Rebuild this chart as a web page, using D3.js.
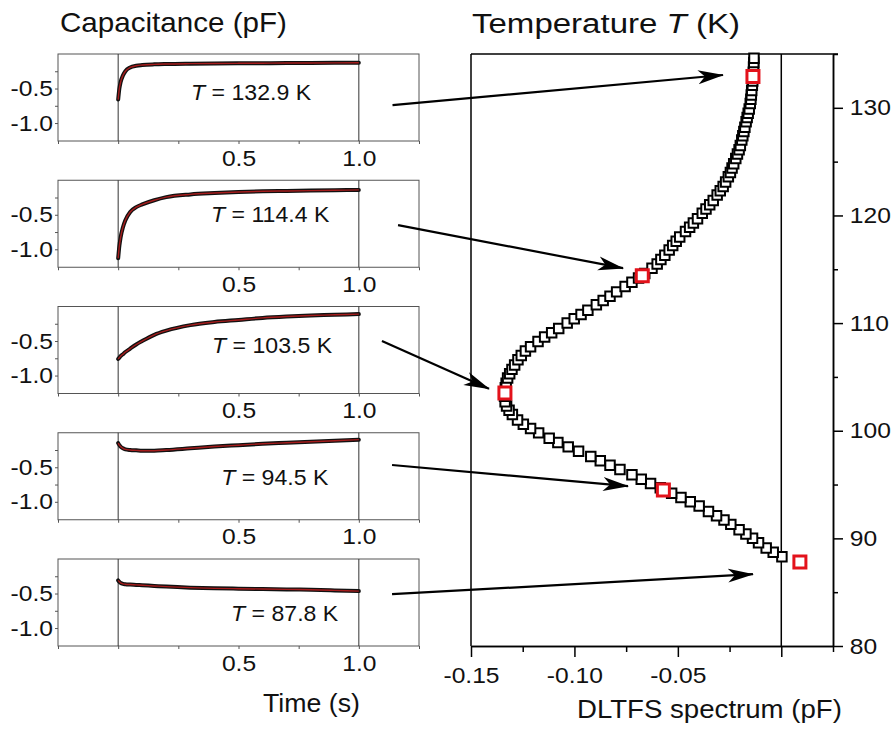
<!DOCTYPE html>
<html>
<head>
<meta charset="utf-8">
<script src="https://cdn.jsdelivr.net/npm/d3@7"></script>
<style>
body { margin: 0; background: #fff; }
text { font-family: "Liberation Sans", Arial, sans-serif; fill: #111; }
</style>
</head>
<body>
<script>
// ---- transients (capacitance vs time), one array per temperature ----
var times = [0, 0.005, 0.01, 0.02, 0.03, 0.05, 0.075, 0.1, 0.15, 0.2, 0.3, 0.4, 0.5, 0.6, 0.7, 0.8, 0.9, 1.0];
var panelTemps = ["132.9", "114.4", "103.5", "94.5", "87.8"];
var cap1329 = [-0.66, -0.50, -0.41, -0.31, -0.25, -0.195, -0.17, -0.16, -0.15, -0.145, -0.14, -0.137, -0.135, -0.133, -0.131, -0.13, -0.128, -0.127];
var cap1144 = [-1.13, -0.95, -0.83, -0.68, -0.58, -0.46, -0.39, -0.35, -0.29, -0.245, -0.205, -0.185, -0.17, -0.16, -0.155, -0.15, -0.145, -0.14];
var cap1035 = [-0.76, -0.74, -0.72, -0.69, -0.66, -0.61, -0.55, -0.50, -0.41, -0.35, -0.27, -0.225, -0.195, -0.165, -0.145, -0.13, -0.12, -0.11];
var cap945 = [-0.15, -0.18, -0.20, -0.225, -0.24, -0.25, -0.255, -0.26, -0.26, -0.25, -0.225, -0.20, -0.18, -0.16, -0.145, -0.13, -0.115, -0.10];
var cap878 = [-0.31, -0.33, -0.345, -0.36, -0.365, -0.37, -0.375, -0.38, -0.39, -0.40, -0.415, -0.425, -0.43, -0.435, -0.44, -0.445, -0.455, -0.465];
var transients = [cap1329, cap1144, cap1035, cap945, cap878];
var timeTicks = [-0.25, 0, 0.25, 0.5, 0.75, 1.0, 1.25];
var timeLabels = [0.5, 1.0];
var capTicks = [-0.25, -0.5, -0.75, -1.0];
var capLabels = [-0.5, -1.0];

// ---- DLTFS spectrum ----
var specT = [88.3, 88.7, 89.1, 89.6, 90.0, 90.4, 90.8, 91.3, 91.7, 92.1, 92.5, 93.0, 93.4, 93.8, 94.2, 94.7,
  95.1, 95.5, 95.9, 96.4, 96.8, 97.2, 97.6, 98.1, 98.5, 98.9, 99.3, 99.8, 100.2, 100.6, 101.0, 101.5,
  101.9, 102.3, 102.7, 103.2, 103.6, 104.0, 104.4, 104.9, 105.3, 105.7, 106.1, 106.6, 107.0, 107.4,
  107.8, 108.3, 108.7, 109.1, 109.5, 110.0, 110.4, 110.8, 111.2, 111.7, 112.1, 112.5, 112.9, 113.4,
  113.8, 114.2, 114.6, 115.1, 115.5, 115.9, 116.3, 116.8, 117.2, 117.6, 118.0, 118.5, 118.9, 119.3,
  119.7, 120.2, 120.6, 121.0, 121.4, 121.9, 122.3, 122.7, 123.1, 123.6, 124.0, 124.4, 124.8, 125.3,
  125.7, 126.1, 126.5, 127.0, 127.4, 127.8, 128.2, 128.7, 129.1, 129.5, 129.9, 130.4, 130.8, 131.2,
  131.6, 132.1, 132.5, 133.3, 133.8, 134.2, 134.6];
var specD = [0.0003, -0.0039, -0.0073, -0.0110, -0.0139, -0.0171, -0.0204, -0.0244, -0.0277, -0.0313, -0.0352, -0.0397, -0.0440, -0.0485, -0.0530, -0.0585,
  -0.0632, -0.0677, -0.0722, -0.0780, -0.0828, -0.0875, -0.0921, -0.0980, -0.1030, -0.1080, -0.1122, -0.1173, -0.1212, -0.1247, -0.1275, -0.1300,
  -0.1316, -0.1328, -0.1335, -0.1338, -0.1336, -0.1334, -0.1330, -0.1323, -0.1313, -0.1302, -0.1289, -0.1273, -0.1257, -0.1237,
  -0.1212, -0.1176, -0.1144, -0.1110, -0.1076, -0.1035, -0.1001, -0.0968, -0.0935, -0.0894, -0.0861, -0.0828, -0.0796, -0.0755,
  -0.0722, -0.0690, -0.0660, -0.0625, -0.0600, -0.0582, -0.0563, -0.0542, -0.0525, -0.0508, -0.0491, -0.0463, -0.0443, -0.0425,
  -0.0405, -0.0382, -0.0364, -0.0346, -0.0329, -0.0310, -0.0295, -0.0281, -0.0269, -0.0256, -0.0246, -0.0238, -0.0230, -0.0220,
  -0.0212, -0.0204, -0.0198, -0.0191, -0.0186, -0.0181, -0.0176, -0.0170, -0.0165, -0.0160, -0.0155, -0.0150, -0.0147, -0.0145,
  -0.0143, -0.0140, -0.0138, -0.0135, -0.0134, -0.0133, -0.0132];
// highlighted temperatures (red)
var markT = [132.9, 114.4, 103.5, 94.5, 87.8];
var markD = [-0.0137, -0.0672, -0.1336, -0.0570, 0.0090];
var tempTicks = [80, 90, 100, 110, 120, 130];
var tempMinor = [85, 95, 105, 115, 125, 135];
var dltfsTicks = [-0.15, -0.10, -0.05, 0];
var dltfsMinor = [-0.125, -0.075, -0.025, 0.025];

// arrows: start in panel coords (t, C), end in spectrum coords (D, T)
var arrowFrom = [[1.14, -0.74], [1.163, -0.65], [1.096, -0.50], [1.138, -0.467], [1.138, -0.51]];
var arrowTo = [[-0.0282, 133.05], [-0.0765, 115.1], [-0.1413, 103.9], [-0.0741, 94.85], [-0.0137, 86.67]];
// where the "T = ..." label sits in each panel (t, C of the baseline start)
var labelAt = [[0.303, -0.667], [0.386, -0.60], [0.39, -0.67], [0.428, -0.757], [0.469, -0.90]];

var w = 892, h = 731;
var svg = d3.select("body").append("svg").attr("width", w).attr("height", h);

svg.append("defs").append("marker")
  .attr("id", "head")
  .attr("markerUnits", "userSpaceOnUse")
  .attr("viewBox", "0 -8 26 16")
  .attr("refX", 25).attr("refY", 0)
  .attr("markerWidth", 26).attr("markerHeight", 16)
  .attr("orient", "auto")
  .append("path")
  .attr("d", "M0,-7 L26,0 L0,7 L7,0 Z")
  .attr("fill", "#000");

// stretch a text horizontally so it fills a given width
function fitText(g, width) {
  var bb = g.node().getBBox();
  var k = width / bb.width;
  var t = g.attr("transform");
  g.attr("transform", t + " scale(" + k + ",1)");
}

var stretch = 1.12;

// ---------------- left: transients ----------------
var px = d3.scaleLinear().domain([-0.25, 1.25]).range([58, 419]);
var ph = 87;
var fmt1 = function(d) { return d.toFixed(1); };

transients.forEach(function(vals, i) {
  var top = 54 + i * 126.25;
  var py = d3.scaleLinear().domain([-1.26, 0]).range([top + ph, top]);
  var g = svg.append("g");

  g.append("rect")
    .attr("x", px(-0.25)).attr("y", top)
    .attr("width", px(1.25) - px(-0.25)).attr("height", ph)
    .attr("fill", "none").attr("stroke", "#555").attr("stroke-width", 1);

  [0, 1.0].forEach(function(t) {
    g.append("line")
      .attr("x1", px(t)).attr("x2", px(t))
      .attr("y1", top).attr("y2", top + ph)
      .attr("stroke", "#333").attr("stroke-width", 1);
  });

  var xa = g.append("g").attr("transform", "translate(0," + (top + ph) + ")")
    .call(d3.axisBottom(px).tickValues(timeTicks).tickSize(3).tickPadding(6)
      .tickFormat(function(d) { return timeLabels.indexOf(d) >= 0 ? fmt1(d) : ""; }));
  var ya = g.append("g").attr("transform", "translate(" + px(-0.25) + ",0)")
    .call(d3.axisLeft(py).tickValues(capTicks).tickSize(3).tickPadding(1.5)
      .tickFormat(function(d) { return capLabels.indexOf(d) >= 0 ? fmt1(d) : ""; }));
  [xa, ya].forEach(function(a) {
    a.select(".domain").remove();
    a.selectAll("line").attr("stroke", "#555");
    a.selectAll("text").attr("font-size", 22).attr("font-family", "Liberation Sans, Arial")
      .attr("fill", "#111").attr("transform", "scale(" + stretch + ",1)");
  });

  var pts = times.map(function(t, j) { return [px(t), py(vals[j])]; });
  var line = d3.line().curve(d3.curveMonotoneX);
  g.append("path").attr("d", line(pts)).attr("fill", "none")
    .attr("stroke", "#111").attr("stroke-width", 4).attr("stroke-linecap", "round");
  g.append("path").attr("d", line(pts)).attr("fill", "none")
    .attr("stroke", "#a51c1c").attr("stroke-width", 1.4);

  var lg = g.append("g").attr("transform", "translate(" + px(labelAt[i][0]) + "," + py(labelAt[i][1]) + ")");
  var lt = lg.append("text").attr("font-size", 22);
  lt.append("tspan").attr("font-style", "italic").text("T");
  lt.append("tspan").text(" = " + panelTemps[i] + " K");
  lg.attr("transform", lg.attr("transform") + " scale(1.05,1)");
});

// ---------------- right: DLTFS spectrum ----------------
var sx = d3.scaleLinear().domain([-0.15, 0.025]).range([471, 833]);
var sy = d3.scaleLinear().domain([80, 135]).range([646, 54]);

var frame = svg.append("g").attr("stroke", "#000").attr("stroke-width", 1.5);
frame.append("line").attr("x1", sx(-0.15)).attr("x2", sx(0.025) + 5).attr("y1", sy(135)).attr("y2", sy(135));
frame.append("line").attr("x1", sx(-0.15)).attr("x2", sx(-0.15)).attr("y1", sy(135)).attr("y2", sy(80));
frame.append("line").attr("x1", sx(0)).attr("x2", sx(0)).attr("y1", sy(135)).attr("y2", sy(80));

function styleAxis(a) {
  a.select(".domain").attr("stroke", "#000").attr("stroke-width", 1.5);
  a.selectAll("line").attr("stroke", "#000").attr("stroke-width", 1.5);
  a.selectAll("text").attr("font-size", 22).attr("font-family", "Liberation Sans, Arial")
    .attr("fill", "#111").attr("transform", "scale(" + stretch + ",1)");
}

var bx = svg.append("g").attr("transform", "translate(0," + sy(80) + ")");
bx.call(d3.axisBottom(sx).tickValues(dltfsTicks).tickSize(11).tickSizeOuter(0).tickPadding(10)
  .tickFormat(function(d) { return d < 0 ? d.toFixed(2) : ""; }));
styleAxis(bx);
var bxm = svg.append("g").attr("transform", "translate(0," + sy(80) + ")");
bxm.call(d3.axisBottom(sx).tickValues(dltfsMinor).tickSize(6).tickSizeOuter(0).tickFormat(""));
styleAxis(bxm);

var ry = svg.append("g").attr("transform", "translate(" + sx(0.025) + ",0)");
ry.call(d3.axisRight(sy).tickValues(tempTicks).tickSize(10).tickSizeOuter(0).tickPadding(5)
  .tickFormat(d3.format("d")));
styleAxis(ry);
var rym = svg.append("g").attr("transform", "translate(" + sx(0.025) + ",0)");
rym.call(d3.axisRight(sy).tickValues(tempMinor).tickSize(5).tickSizeOuter(0).tickFormat(""));
styleAxis(rym);

var sq = d3.symbol().type(d3.symbolSquare);
svg.append("g").selectAll("path.pt")
  .data(specT.map(function(t, j) { return [specD[j], t]; }))
  .enter().append("path")
  .attr("transform", function(d) { return "translate(" + sx(d[0]) + "," + sy(d[1]) + ")"; })
  .attr("d", sq.size(90)())
  .attr("fill", "#fff").attr("stroke", "#000").attr("stroke-width", 2);

svg.append("g").selectAll("path.mk")
  .data(markT.map(function(t, j) { return [markD[j], t]; }))
  .enter().append("path")
  .attr("transform", function(d) { return "translate(" + sx(d[0]) + "," + sy(d[1]) + ")"; })
  .attr("d", sq.size(144)())
  .attr("fill", "#fff").attr("stroke", "#e3121b").attr("stroke-width", 3);

// ---------------- arrows ----------------
arrowFrom.forEach(function(a, i) {
  var top = 54 + i * 126.25;
  var py = d3.scaleLinear().domain([-1.26, 0]).range([top + ph, top]);
  svg.append("line")
    .attr("x1", px(a[0])).attr("y1", py(a[1]))
    .attr("x2", sx(arrowTo[i][0])).attr("y2", sy(arrowTo[i][1]))
    .attr("stroke", "#000").attr("stroke-width", 2.2)
    .attr("marker-end", "url(#head)");
});

// ---------------- titles ----------------
var t1 = svg.append("g").attr("transform", "translate(60,32)");
t1.append("text").attr("font-size", 27).text("Capacitance (pF)");
fitText(t1, 227);

var t2 = svg.append("g").attr("transform", "translate(472,33)");
var t2t = t2.append("text").attr("font-size", 27);
t2t.append("tspan").text("Temperature ");
t2t.append("tspan").attr("font-style", "italic").text("T");
t2t.append("tspan").text(" (K)");
fitText(t2, 268);

var t3 = svg.append("g").attr("transform", "translate(263,712)");
t3.append("text").attr("font-size", 26).text("Time (s)");
fitText(t3, 97);

var t4 = svg.append("g").attr("transform", "translate(577,718)");
t4.append("text").attr("font-size", 26).text("DLTFS spectrum (pF)");
fitText(t4, 265);
</script>
</body>
</html>
